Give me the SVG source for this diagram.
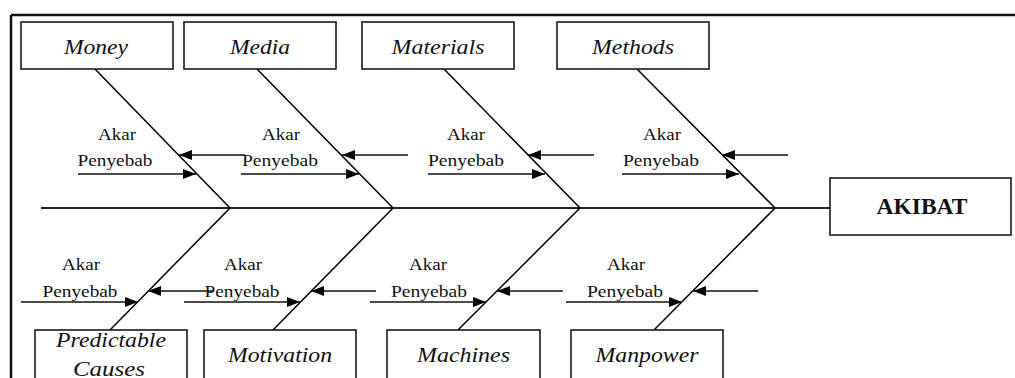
<svg xmlns="http://www.w3.org/2000/svg" width="1015" height="378" viewBox="0 0 1015 378">
<style>
.box{fill:#fff;stroke:#1a1a1a;stroke-width:1.6}
.lbl{font-family:"Liberation Serif","Times New Roman",serif;font-style:italic;font-size:21px;fill:#111;text-anchor:middle}
.cause{font-family:"Liberation Serif","Times New Roman",serif;font-size:17.5px;fill:#111;text-anchor:middle}
.bone{stroke:#000;stroke-width:1.5;fill:none}
.spine{stroke:#222;stroke-width:2;fill:none}
.arr{stroke:#111;stroke-width:1.6;fill:none;marker-end:url(#ah)}
.frame{stroke:#111;stroke-width:2.5;fill:none}
</style>
<defs>
<marker id="ah" viewBox="0 0 13 10" refX="13" refY="5" markerWidth="13" markerHeight="10" markerUnits="userSpaceOnUse" orient="auto">
<path d="M0,0 L13,5 L0,10 z" fill="#000"/>
</marker>
</defs>
<rect x="0" y="0" width="1015" height="378" fill="#fff"/>
<g id="frame">
<line class="frame" x1="11" y1="15" x2="1015" y2="15"/>
<line class="frame" x1="11" y1="15" x2="11" y2="378"/>
</g>
<g id="connectors">
<line class="spine" x1="41" y1="208" x2="830" y2="208"/>
<polyline class="bone" points="95,69 230,208 110,330"/>
<polyline class="bone" points="257,69 393,208 273,330"/>
<polyline class="bone" points="444,69 580,208 458,330"/>
<polyline class="bone" points="637,69 775,208 654,330"/>
<line class="arr" x1="245" y1="155" x2="179" y2="155"/>
<line class="arr" x1="78" y1="174" x2="196" y2="174"/>
<line class="arr" x1="408" y1="155" x2="342" y2="155"/>
<line class="arr" x1="241" y1="174" x2="359" y2="174"/>
<line class="arr" x1="594" y1="155" x2="528" y2="155"/>
<line class="arr" x1="428" y1="174" x2="545" y2="174"/>
<line class="arr" x1="788" y1="155" x2="722" y2="155"/>
<line class="arr" x1="622" y1="174" x2="739" y2="174"/>
<line class="arr" x1="214" y1="291" x2="148" y2="291"/>
<line class="arr" x1="21" y1="302" x2="138" y2="302"/>
<line class="arr" x1="376" y1="291" x2="311" y2="291"/>
<line class="arr" x1="184" y1="302" x2="300" y2="302"/>
<line class="arr" x1="563" y1="291" x2="497" y2="291"/>
<line class="arr" x1="370" y1="302" x2="486" y2="302"/>
<line class="arr" x1="758" y1="291" x2="693" y2="291"/>
<line class="arr" x1="566" y1="302" x2="682" y2="302"/>
</g>
<g id="causes">
<text class="cause" x="117" y="140" textLength="38" lengthAdjust="spacingAndGlyphs">Akar</text>
<text class="cause" x="115" y="166" textLength="75" lengthAdjust="spacingAndGlyphs">Penyebab</text>
<text class="cause" x="281" y="140" textLength="38" lengthAdjust="spacingAndGlyphs">Akar</text>
<text class="cause" x="280" y="166" textLength="76" lengthAdjust="spacingAndGlyphs">Penyebab</text>
<text class="cause" x="466" y="140" textLength="38" lengthAdjust="spacingAndGlyphs">Akar</text>
<text class="cause" x="466" y="166" textLength="76" lengthAdjust="spacingAndGlyphs">Penyebab</text>
<text class="cause" x="662" y="140" textLength="38" lengthAdjust="spacingAndGlyphs">Akar</text>
<text class="cause" x="661" y="166" textLength="76" lengthAdjust="spacingAndGlyphs">Penyebab</text>
<text class="cause" x="81" y="270" textLength="38" lengthAdjust="spacingAndGlyphs">Akar</text>
<text class="cause" x="80" y="297" textLength="75" lengthAdjust="spacingAndGlyphs">Penyebab</text>
<text class="cause" x="243" y="270" textLength="38" lengthAdjust="spacingAndGlyphs">Akar</text>
<text class="cause" x="242" y="297" textLength="75" lengthAdjust="spacingAndGlyphs">Penyebab</text>
<text class="cause" x="428" y="270" textLength="38" lengthAdjust="spacingAndGlyphs">Akar</text>
<text class="cause" x="429" y="297" textLength="76" lengthAdjust="spacingAndGlyphs">Penyebab</text>
<text class="cause" x="626" y="270" textLength="38" lengthAdjust="spacingAndGlyphs">Akar</text>
<text class="cause" x="625" y="297" textLength="76" lengthAdjust="spacingAndGlyphs">Penyebab</text>
</g>
<g id="money"><rect class="box" x="21" y="22" width="152" height="47"/><text class="lbl" x="96" y="53.5" textLength="64" lengthAdjust="spacingAndGlyphs">Money</text></g>
<g id="media"><rect class="box" x="184" y="22" width="152" height="47"/><text class="lbl" x="260" y="53.5" textLength="60" lengthAdjust="spacingAndGlyphs">Media</text></g>
<g id="materials"><rect class="box" x="362" y="22" width="152" height="47"/><text class="lbl" x="438" y="53.5" textLength="93" lengthAdjust="spacingAndGlyphs">Materials</text></g>
<g id="methods"><rect class="box" x="557" y="22" width="152" height="47"/><text class="lbl" x="633" y="53.5" textLength="82" lengthAdjust="spacingAndGlyphs">Methods</text></g>
<g id="predictable"><rect class="box" x="35" y="330" width="152" height="60"/><text class="lbl" x="111" y="347" textLength="110" lengthAdjust="spacingAndGlyphs">Predictable</text><text class="lbl" x="109" y="376" textLength="72" lengthAdjust="spacingAndGlyphs">Causes</text></g>
<g id="motivation"><rect class="box" x="204" y="330" width="152" height="60"/><text class="lbl" x="280" y="362" textLength="104" lengthAdjust="spacingAndGlyphs">Motivation</text></g>
<g id="machines"><rect class="box" x="387" y="330" width="153" height="60"/><text class="lbl" x="463.5" y="362" textLength="93" lengthAdjust="spacingAndGlyphs">Machines</text></g>
<g id="manpower"><rect class="box" x="571" y="330" width="152" height="60"/><text class="lbl" x="647" y="362" textLength="103" lengthAdjust="spacingAndGlyphs">Manpower</text></g>
<g id="akibat"><rect class="box" x="830" y="178" width="181" height="57"/><text x="922" y="213.5" text-anchor="middle" font-family="'Liberation Serif','Times New Roman',serif" font-weight="bold" font-size="22.5" fill="#111" textLength="91" lengthAdjust="spacingAndGlyphs">AKIBAT</text></g>
</svg>
